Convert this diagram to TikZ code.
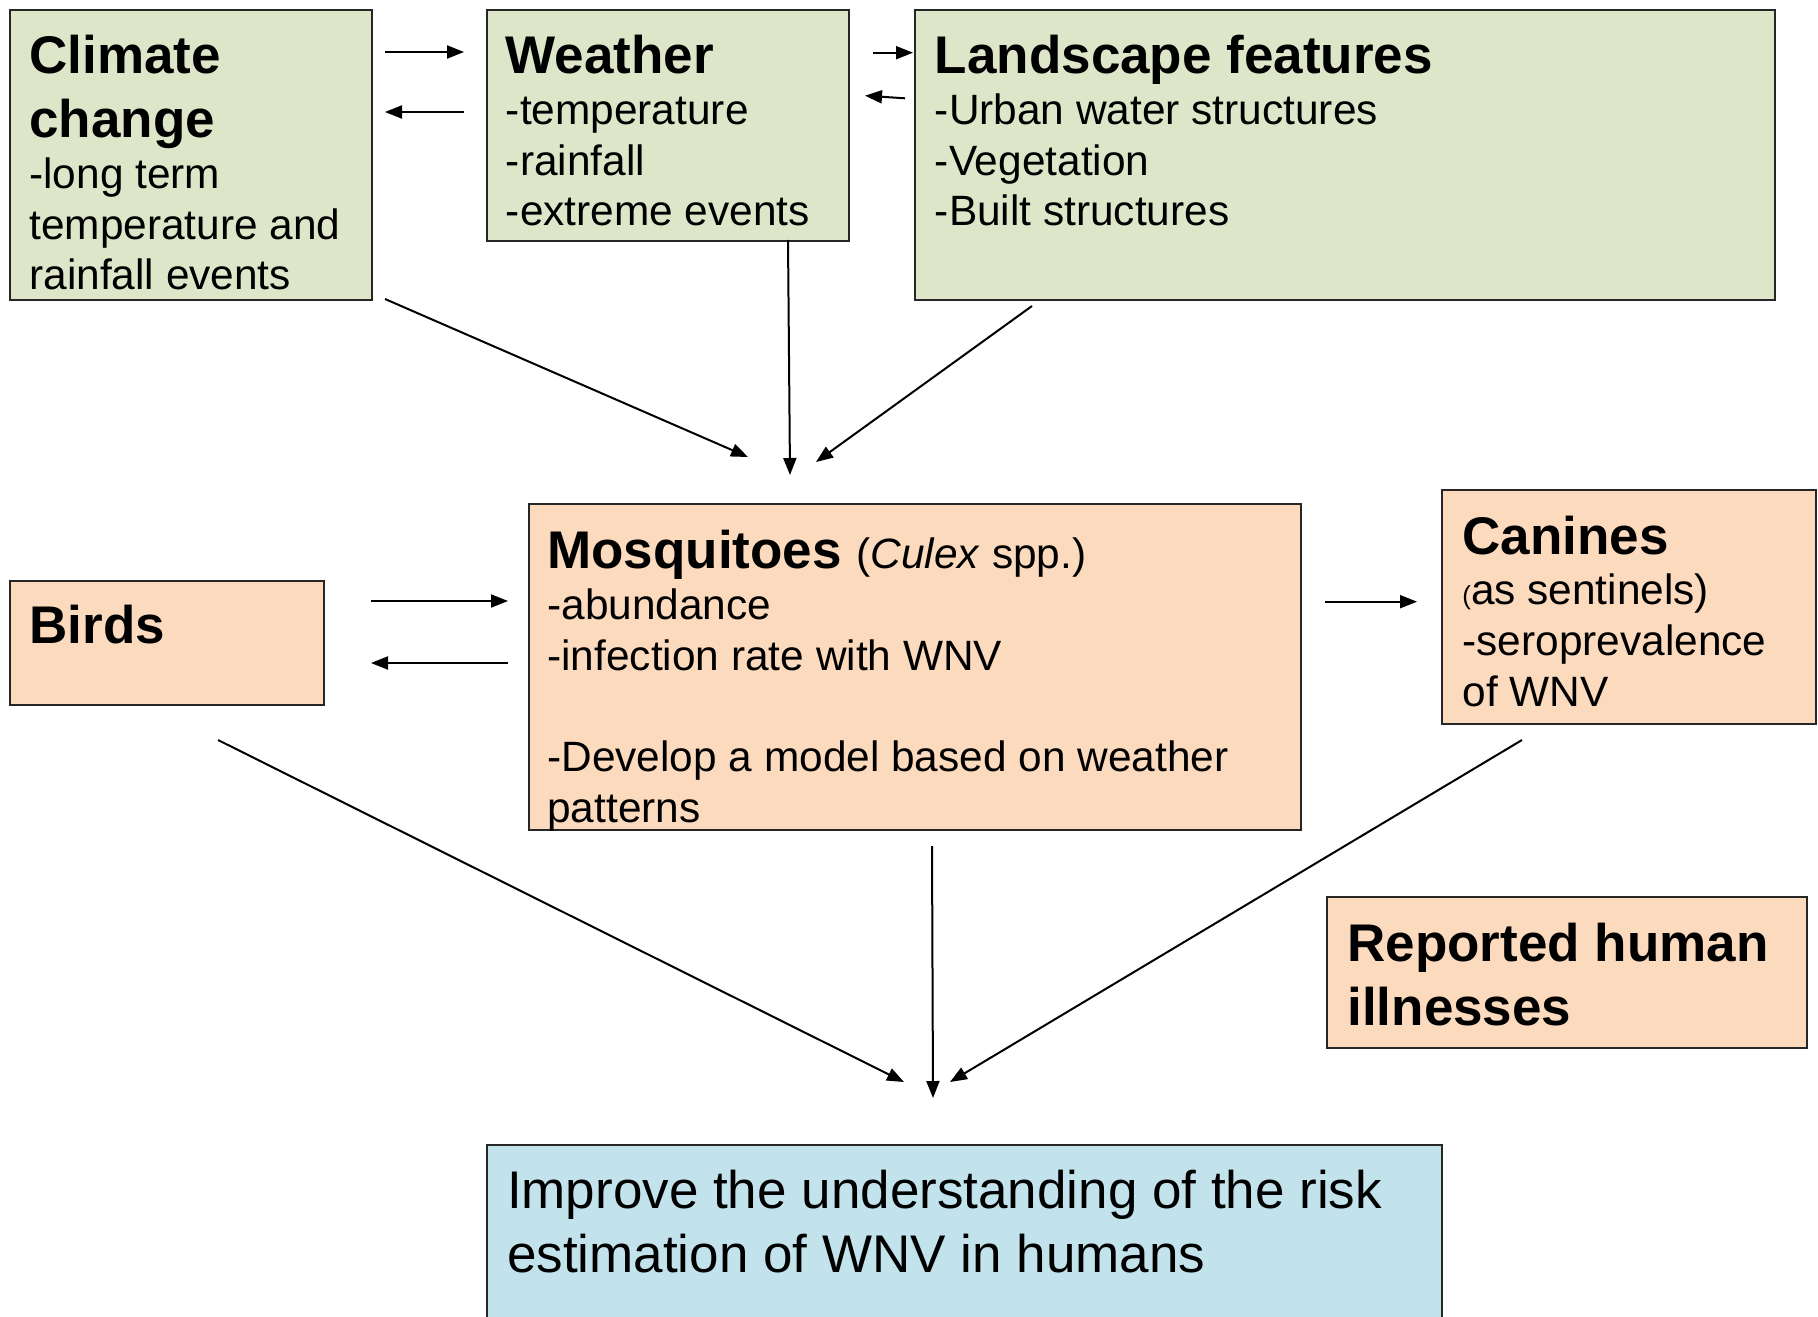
\documentclass[tikz,border=0pt]{standalone}
\usepackage{fontspec}
\setmainfont{Liberation Sans}
\usetikzlibrary{arrows.meta}
\definecolor{boxgreen}{HTML}{DEE6C9}
\definecolor{boxorange}{HTML}{FCDABE}
\definecolor{boxblue}{HTML}{C3E3EC}
\newcommand{\ttlfont}{\fontsize{26.5}{32}\selectfont\bfseries}
\newcommand{\bodyfont}{\fontsize{21.2}{25.4}\selectfont}
\newcommand{\bigfont}{\fontsize{26.5}{32}\selectfont}
\tikzset{
  box/.style={draw=black!85, line width=1pt, rectangle, anchor=north west, inner sep=0pt},
  txt/.style={anchor=base west, inner sep=0pt, text width=#1,
    execute at begin node={\spaceskip=0pt\xspaceskip=0pt\parindent=0pt}},
  arr/.style={line width=1pt, -{Triangle[length=8.5pt,width=6.5pt]}}
}
\begin{document}
\begin{tikzpicture}[x=0.5pt,y=-0.5pt]
\useasboundingbox (0,0) rectangle (1818,1316);
% boxes
\node[box, fill=boxgreen, minimum width=181pt, minimum height=145pt] (cc) at (9,9) {};
\node[box, fill=boxgreen, minimum width=181pt, minimum height=115.5pt] (we) at (486,9) {};
\node[box, fill=boxgreen, minimum width=430pt, minimum height=145pt] (la) at (914,9) {};
\node[box, fill=boxorange, minimum width=157pt, minimum height=62pt] (bi) at (9,580) {};
\node[box, fill=boxorange, minimum width=386pt, minimum height=163pt] (mo) at (528,503) {};
\node[box, fill=boxorange, minimum width=187pt, minimum height=117pt] (ca) at (1441,489) {};
\node[box, fill=boxorange, minimum width=240pt, minimum height=75.5pt] (re) at (1326,896) {};
\node[box, fill=boxblue, minimum width=477.5pt, minimum height=93pt] (im) at (486,1144) {};
% texts
\node[txt=175pt] (cct) at (29,73.5) {{\ttlfont Climate\\change\par}{\bodyfont -long term\\temperature and\\rainfall events\par}};
\node[txt=175pt] (wet) at (505.5,73.5) {{\ttlfont Weather\par}{\bodyfont -temperature\\-rainfall\\-extreme events\par}};
\node[txt=420pt] (lat) at (934.5,73.5) {{\ttlfont Landscape features\par}{\bodyfont -Urban water structures\\-Vegetation\\-Built structures\par}};
\node[txt=150pt] (bit) at (29,643) {{\ttlfont Birds\par}};
\node[txt=380pt] (mot) at (547,568.5) {{\ttlfont Mosquitoes {\mdseries\bodyfont (\textit{Culex} spp.)}\par}{\bodyfont -abundance\\-infection rate with WNV\\[25.4pt]-Develop a model based on weather\\patterns\par}};
\node[txt=185pt] (cat) at (1462,554) {{\ttlfont Canines\par}{\bodyfont {\fontsize{13}{15}\selectfont(}as sentinels)\\-seroprevalence\\of WNV\par}};
\node[txt=235pt] (ret) at (1347,961.6) {{\ttlfont Reported human\\illnesses\par}};
\node[txt=470pt] (imt) at (506.7,1208) {{\bigfont Improve the understanding of the risk\\estimation of WNV in humans\par}};
% connector end points
\coordinate (cw1) at (385,52);   \coordinate (cw2) at (464,52);
\coordinate (wc1) at (464,112);  \coordinate (wc2) at (385,112);
\coordinate (wl1) at (873,52.7); \coordinate (wl2) at (913,52.7);
\coordinate (lw1) at (905,98.3); \coordinate (lw2) at (865,95.7);
\coordinate (cm1) at (385,299);  \coordinate (cm2) at (748,457);
\coordinate (wm1) at (788,240);  \coordinate (wm2) at (790,475);
\coordinate (lm1) at (1032,306); \coordinate (lm2) at (816,462);
\coordinate (bm1) at (371,601);  \coordinate (bm2) at (508,601);
\coordinate (mb1) at (508,663);  \coordinate (mb2) at (371,663);
\coordinate (mc1) at (1325,601.7); \coordinate (mc2) at (1417,601.7);
\coordinate (bi1) at (218,740);  \coordinate (bi2) at (904,1082);
\coordinate (mi1) at (932,846);  \coordinate (mi2) at (933,1098);
\coordinate (ci1) at (1522,740); \coordinate (ci2) at (950,1082);
% connectors
\draw[arr] (cw1) -- (cw2);
\draw[arr] (wc1) -- (wc2);
\draw[arr] (wl1) -- (wl2);
\draw[arr] (lw1) -- (lw2);
\draw[arr] (cm1) -- (cm2);
\draw[arr] (wm1) -- (wm2);
\draw[arr] (lm1) -- (lm2);
\draw[arr] (bm1) -- (bm2);
\draw[arr] (mb1) -- (mb2);
\draw[arr] (mc1) -- (mc2);
\draw[arr] (bi1) -- (bi2);
\draw[arr] (mi1) -- (mi2);
\draw[arr] (ci1) -- (ci2);
\end{tikzpicture}
\end{document}
